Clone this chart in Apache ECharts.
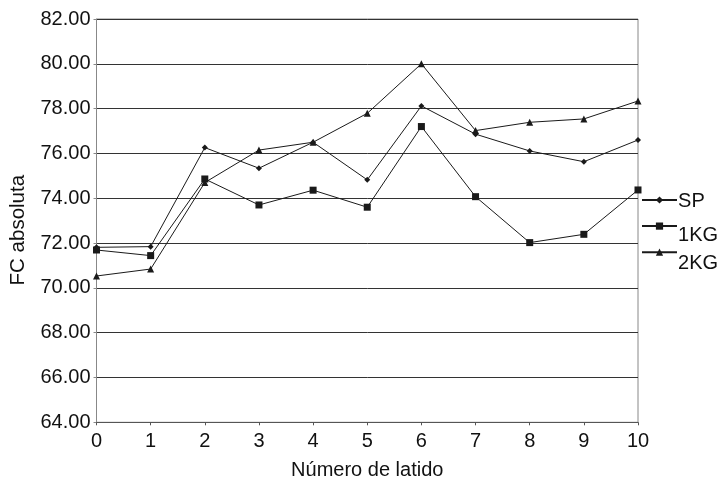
<!DOCTYPE html>
<html><head><meta charset="utf-8">
<script src="https://cdn.jsdelivr.net/npm/echarts@6/dist/echarts.min.js"></script>
<style>html,body{margin:0;padding:0;background:#fff}#c{width:721px;height:483px}</style>
</head><body><div id="c"></div>
<script>
const categories = ['0','1','2','3','4','5','6','7','8','9','10'];
const sp   = [71.81, 71.84, 76.26, 75.34, 76.50, 74.82, 78.12, 76.86, 76.11, 75.63, 76.60];
const kg1  = [71.69, 71.44, 74.86, 73.70, 74.36, 73.60, 77.20, 74.07, 72.02, 72.39, 74.37];
const kg2  = [70.53, 70.84, 74.70, 76.15, 76.50, 77.79, 80.00, 77.02, 77.39, 77.54, 78.34];
const seriesNames = ['SP','1KG','2KG'];
const yMin = 64, yMax = 82, yStep = 2;

const chart = echarts.init(document.getElementById('c'), null, {renderer:'canvas'});
const font = 'Liberation Sans, Arial, sans-serif';
const ink = '#111';
const lineStyle = {color:'#1a1a1a', width:1};
function mk(name, data, symbol, size){
  return {name, type:'line', data, symbol, symbolSize:size, showSymbol:true,
    lineStyle, itemStyle:{color:'#1a1a1a'}, animation:false, emphasis:{disabled:true}};
}
// legend keys (icons only)
const iconLegend = {orient:'vertical', left:641, top:195.5, itemWidth:35, itemHeight:9, itemGap:18,
  padding:0, formatter:()=>'', textStyle:{fontSize:1}, data:seriesNames};
// legend labels (text only, icons hidden)
function textLegend(name, top){
  return {orient:'vertical', left:669, top, itemWidth:1, itemHeight:9, padding:0,
    itemStyle:{opacity:0}, lineStyle:{opacity:0},
    textStyle:{fontFamily:font, fontSize:20, color:ink}, data:[name]};
}
chart.setOption({
  animation:false,
  grid:{left:96.5, right:83, top:19, bottom:60.7, show:true, borderColor:'#888', borderWidth:1,
        outerBoundsMode:'none', containLabel:false},
  xAxis:{type:'category', data:categories, boundaryGap:false,
    name:'Número de latido', nameLocation:'middle', nameGap:38,
    nameTextStyle:{fontFamily:font, fontSize:20, color:ink},
    axisLine:{lineStyle:{color:'#555', width:1}},
    axisTick:{show:true, alignWithLabel:true, length:3, lineStyle:{color:'#555'}},
    axisLabel:{fontFamily:font, fontSize:20, color:ink, margin:9}},
  yAxis:{type:'value', min:yMin, max:yMax, interval:yStep,
    name:'FC absoluta', nameLocation:'middle', nameGap:68,
    nameTextStyle:{fontFamily:font, fontSize:20.5, color:ink, padding:[0,19,0,0]},
    axisLine:{show:true, lineStyle:{color:'#888', width:1}},
    axisTick:{show:true, length:3, lineStyle:{color:'#888'}},
    axisLabel:{fontFamily:font, fontSize:20, color:ink, margin:6, formatter:v=>v.toFixed(2)},
    splitLine:{lineStyle:{color:'#333', width:1}}},
  legend:[iconLegend, textLegend(seriesNames[0], 191), textLegend(seriesNames[1], 225), textLegend(seriesNames[2], 253)],
  series:[
    mk(seriesNames[0], sp, 'diamond', 6),
    mk(seriesNames[1], kg1, 'rect', 7),
    mk(seriesNames[2], kg2, 'triangle', 7)
  ]
});
</script></body></html>
